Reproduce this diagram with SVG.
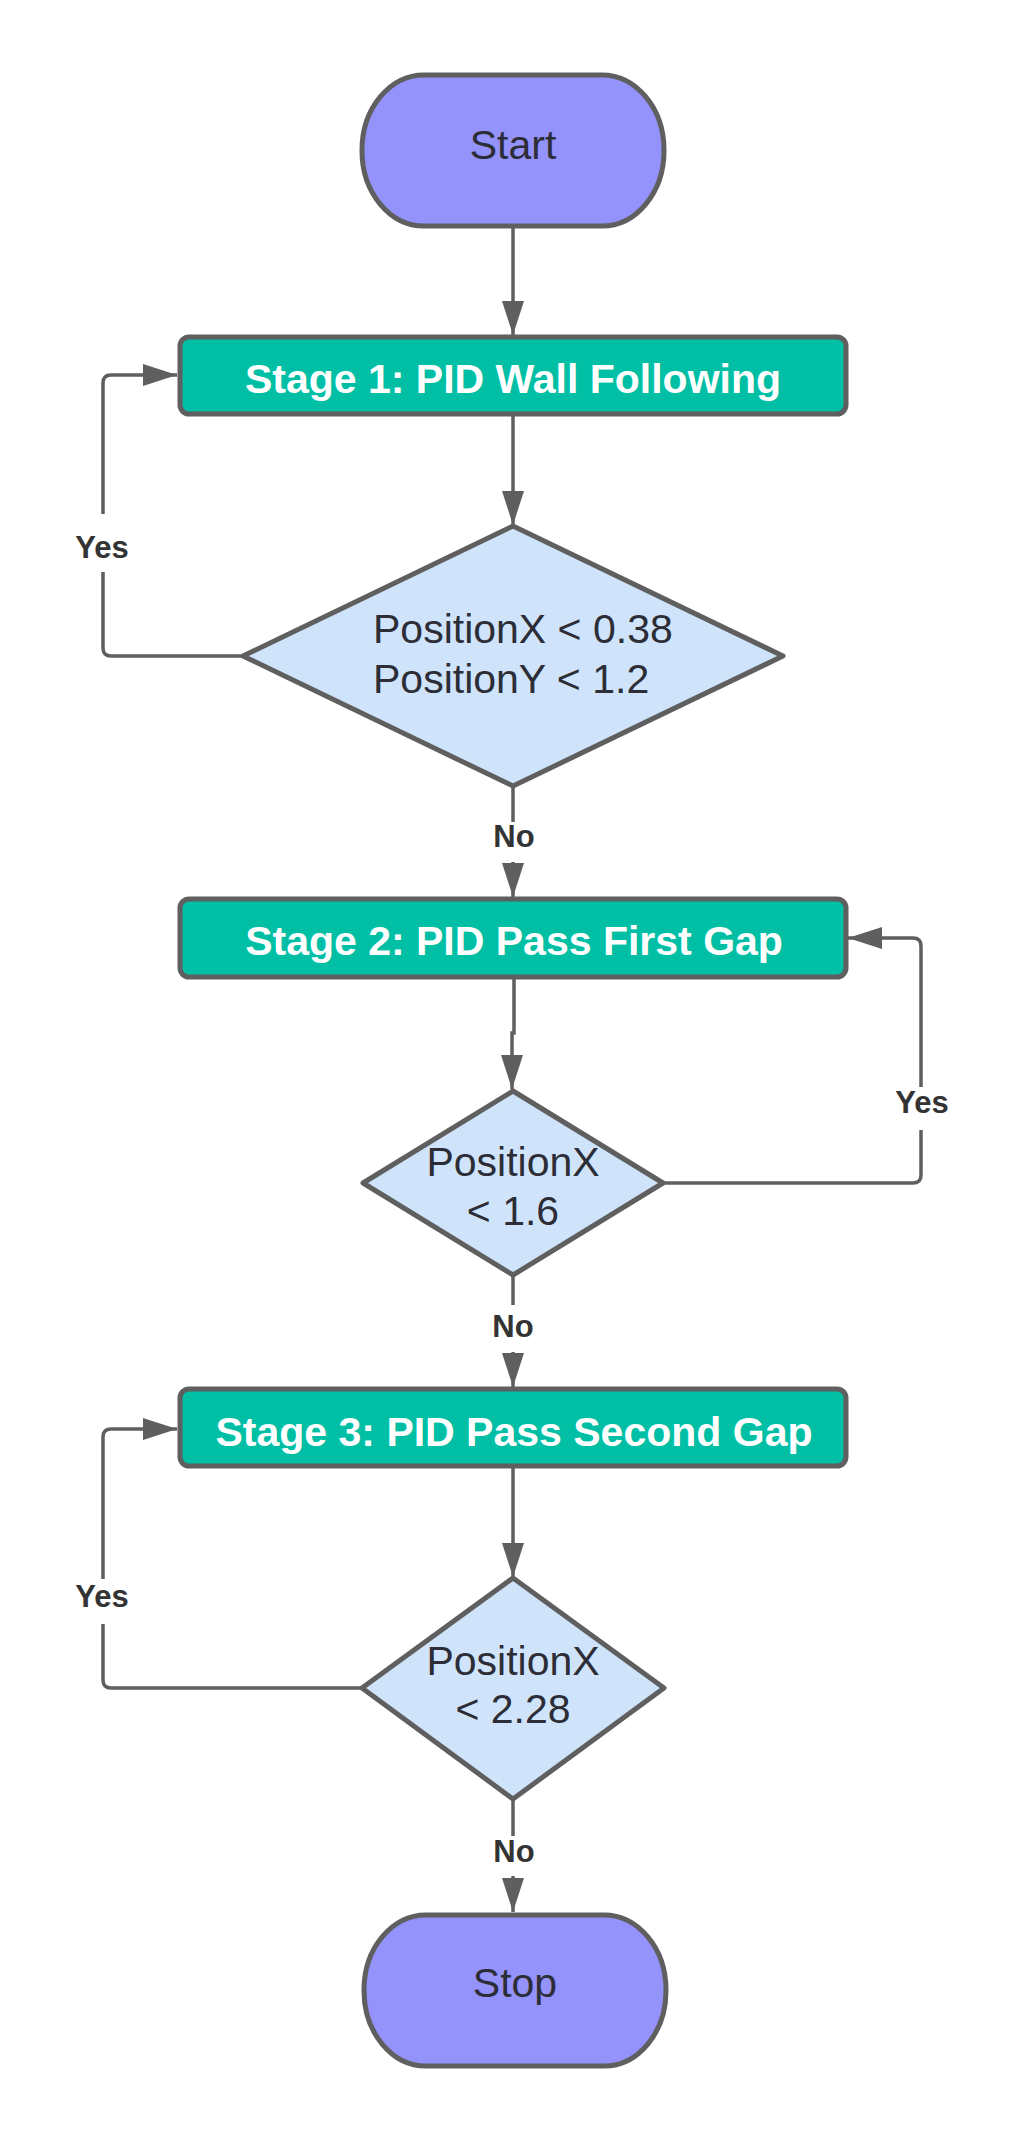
<svg xmlns="http://www.w3.org/2000/svg" width="1029" height="2138" viewBox="0 0 1029 2138">
<style>
.term{fill:#9492fb;stroke:#5f5f5f;stroke-width:5}
.proc{fill:#00bfa5;stroke:#5f5f5f;stroke-width:5}
.dec{fill:#cfe4fb;stroke:#5f5f5f;stroke-width:5;stroke-linejoin:round}
.conn{fill:none;stroke:#5f5f5f;stroke-width:3.5}
.t{font-family:"Liberation Sans",Arial,sans-serif;font-size:41px;fill:#2c2d36}
.st{font-family:"Liberation Sans",Arial,sans-serif;font-size:41px;font-weight:bold;fill:#ffffff;text-anchor:middle}
.lbl{font-family:"Liberation Sans",Arial,sans-serif;font-size:31px;font-weight:bold;fill:#333333;text-anchor:middle}
.mid{text-anchor:middle}
</style>
<defs>
<marker id="arr" markerUnits="userSpaceOnUse" markerWidth="36" markerHeight="24" refX="34" refY="11" orient="auto">
<path d="M0,0 L34,11 L0,22 Z" fill="#5f5f5f"/>
</marker>
</defs>
<rect width="1029" height="2138" fill="#ffffff"/>
<g id="connectors">
<path class="conn" d="M513 226 V335" marker-end="url(#arr)"/>
<path class="conn" d="M513 414 V525" marker-end="url(#arr)"/>
<path class="conn" d="M513 786 V822"/>
<path class="conn" d="M513 862 V897" marker-end="url(#arr)"/>
<path class="conn" d="M243 656 H111 Q103 656 103 648 V383 Q103 375 111 375 H177" marker-end="url(#arr)"/>
<path class="conn" d="M514 977 V1033 H512 V1089" marker-end="url(#arr)"/>
<path class="conn" d="M663 1183 H913 Q921 1183 921 1175 V946 Q921 938 913 938 H848" marker-end="url(#arr)"/>
<path class="conn" d="M513 1275 V1305"/>
<path class="conn" d="M513 1352 V1387" marker-end="url(#arr)"/>
<path class="conn" d="M513 1466 V1577" marker-end="url(#arr)"/>
<path class="conn" d="M362 1688 H111 Q103 1688 103 1680 V1437 Q103 1429 111 1429 H177" marker-end="url(#arr)"/>
<path class="conn" d="M513 1799 V1836"/>
<path class="conn" d="M513 1876 V1912" marker-end="url(#arr)"/>
<rect x="78" y="514" width="50" height="58" fill="#ffffff"/>
<text class="lbl" x="102" y="558">Yes</text>
<rect x="896" y="1087" width="52" height="43" fill="#ffffff"/>
<text class="lbl" x="922" y="1113">Yes</text>
<rect x="78" y="1579" width="50" height="45" fill="#ffffff"/>
<text class="lbl" x="102" y="1607">Yes</text>
<text class="lbl" x="514" y="847">No</text>
<text class="lbl" x="513" y="1337">No</text>
<text class="lbl" x="514" y="1862">No</text>
</g>
<g id="start">
<rect class="term" x="362" y="75" width="302" height="151" rx="62" ry="75"/>
<text class="t mid" x="513" y="159">Start</text>
</g>
<g id="stage1">
<rect class="proc" x="180" y="337" width="666" height="77" rx="9"/>
<text class="st" x="513" y="393">Stage 1: PID Wall Following</text>
</g>
<g id="decision1">
<polygon class="dec" points="513,526 783,656 513,786 243,656"/>
<text class="t" x="373" y="643">PositionX &lt; 0.38</text>
<text class="t" x="373" y="693">PositionY &lt; 1.2</text>
</g>
<g id="stage2">
<rect class="proc" x="180" y="899" width="666" height="78" rx="9"/>
<text class="st" x="514" y="955">Stage 2: PID Pass First Gap</text>
</g>
<g id="decision2">
<polygon class="dec" points="513,1091 663,1183 513,1275 363,1183"/>
<text class="t mid" x="513" y="1176">PositionX</text>
<text class="t mid" x="513" y="1225">&lt; 1.6</text>
</g>
<g id="stage3">
<rect class="proc" x="180" y="1389" width="666" height="77" rx="9"/>
<text class="st" x="514" y="1446">Stage 3: PID Pass Second Gap</text>
</g>
<g id="decision3">
<polygon class="dec" points="513,1578 664,1688 513,1799 362,1688"/>
<text class="t mid" x="513" y="1675">PositionX</text>
<text class="t mid" x="513" y="1723">&lt; 2.28</text>
</g>
<g id="stop">
<rect class="term" x="364" y="1915" width="302" height="151" rx="62" ry="75"/>
<text class="t mid" x="515" y="1997">Stop</text>
</g>
</svg>
